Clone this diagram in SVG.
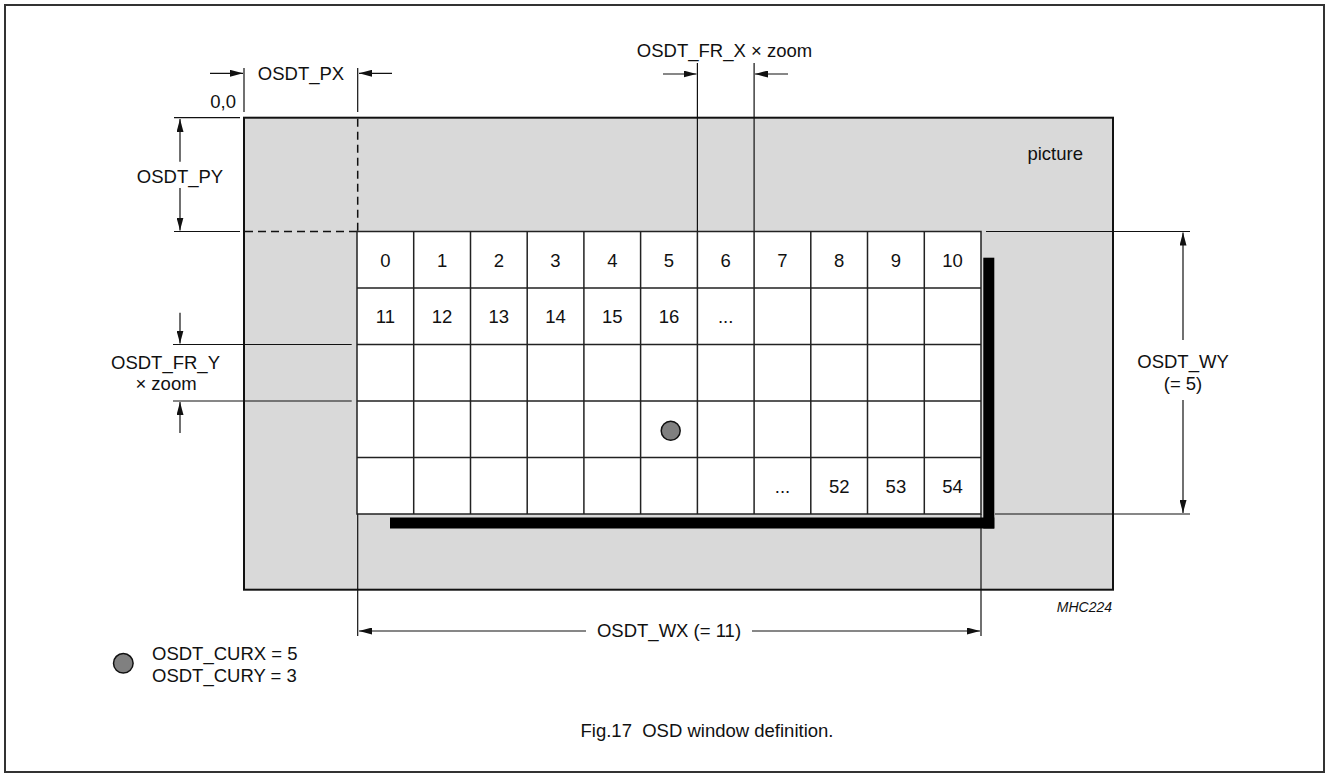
<svg xmlns="http://www.w3.org/2000/svg" width="1326" height="774" viewBox="0 0 1326 774">
<style>
text{font-family:"Liberation Sans",Arial,Helvetica,sans-serif;font-size:18.5px;fill:#111}
.c{text-anchor:middle}
.r{text-anchor:end}
.thin{stroke:#111;stroke-width:1.2;fill:none}
.dash{stroke:#111;stroke-width:1.5;fill:none;stroke-dasharray:8 5}
.arr{stroke:#111;stroke-width:1.2;fill:none;marker-end:url(#ah)}
.grid{stroke:#222;stroke-width:1.5;fill:none}
</style>
<defs>
<marker id="ah" markerUnits="userSpaceOnUse" markerWidth="13" markerHeight="7" refX="13" refY="3.5" orient="auto">
<path d="M0,0 L13,3.5 L0,7 z" fill="#111"/>
</marker>
</defs>
<rect x="5" y="5" width="1319" height="767" fill="#fff" stroke="#333" stroke-width="2"/>
<g id="picture">
<rect x="244" y="117.7" width="869" height="472" fill="#d9d9d9" stroke="#111" stroke-width="2"/>
<text x="1083" y="160" class="r">picture</text>
</g>
<g id="connectors">
<line class="dash" x1="357.7" y1="118.7" x2="357.7" y2="231.5"/>
<line class="dash" x1="245" y1="231.5" x2="357" y2="231.5"/>
<line class="thin" x1="244" y1="68" x2="244" y2="112"/>
<line class="thin" x1="357.7" y1="68" x2="357.7" y2="112"/>
<line class="arr" x1="210" y1="73.3" x2="243" y2="73.3"/>
<line class="arr" x1="392" y1="73.3" x2="359" y2="73.3"/>
<line class="thin" x1="174" y1="117.7" x2="240" y2="117.7"/>
<line class="thin" x1="174" y1="231.5" x2="240" y2="231.5"/>
<line class="arr" x1="180" y1="161.7" x2="180" y2="119"/>
<line class="arr" x1="180" y1="188" x2="180" y2="230.5"/>
<line class="thin" x1="697.4" y1="63" x2="697.4" y2="231.5"/>
<line class="thin" x1="754.1" y1="63" x2="754.1" y2="231.5"/>
<line class="arr" x1="663" y1="74" x2="696.5" y2="74"/>
<line class="arr" x1="788" y1="74" x2="755" y2="74"/>
<line class="thin" x1="173" y1="344.5" x2="351.7" y2="344.5"/>
<line class="thin" x1="173" y1="401" x2="351.7" y2="401"/>
<line class="arr" x1="180" y1="312.7" x2="180" y2="343.5"/>
<line class="arr" x1="180" y1="433" x2="180" y2="402"/>
<line class="thin" x1="986" y1="231.5" x2="1190" y2="231.5"/>
<line class="thin" x1="995" y1="514" x2="1190" y2="514"/>
<line class="arr" x1="1183" y1="340" x2="1183" y2="232.5"/>
<line class="arr" x1="1183" y1="400" x2="1183" y2="513"/>
<line class="thin" x1="357.7" y1="514" x2="357.7" y2="636"/>
<line class="thin" x1="981" y1="514" x2="981" y2="636"/>
<line class="arr" x1="586" y1="631" x2="359" y2="631"/>
<line class="arr" x1="752" y1="631" x2="980" y2="631"/>
</g>
<g id="labels">
<text x="301" y="80" class="c">OSDT_PX</text>
<text x="236" y="108" class="r">0,0</text>
<text x="180" y="183" class="c">OSDT_PY</text>
<text x="724.5" y="57" class="c">OSDT_FR_X × zoom</text>
<text x="165.5" y="369" class="c">OSDT_FR_Y</text>
<text x="166" y="390" class="c">× zoom</text>
<text x="1183" y="368" class="c">OSDT_WY</text>
<text x="1183" y="390" class="c">(= 5)</text>
<text x="669" y="637" class="c">OSDT_WX (= 11)</text>
<text x="1112" y="612" class="r" style="font-style:italic;font-size:14px">MHC224</text>
<text x="152" y="660">OSDT_CURX = 5</text>
<text x="152" y="682">OSDT_CURY = 3</text>
<text x="707" y="737" class="c">Fig.17&#160; OSD window definition.</text>
</g>
<g id="osd-window">
<rect x="357" y="231.5" width="624" height="282.5" fill="#fff" stroke="#222" stroke-width="1.5"/>
<path class="grid" d="M413.7,231.5V514M470.5,231.5V514M527.2,231.5V514M583.9,231.5V514M640.6,231.5V514M697.4,231.5V514M754.1,231.5V514M810.8,231.5V514M867.5,231.5V514M924.3,231.5V514M357,288H981M357,344.5H981M357,401H981M357,457.5H981"/>
<g>
<text x="385.4" y="266.5" class="c">0</text>
<text x="442.1" y="266.5" class="c">1</text>
<text x="498.8" y="266.5" class="c">2</text>
<text x="555.5" y="266.5" class="c">3</text>
<text x="612.3" y="266.5" class="c">4</text>
<text x="669" y="266.5" class="c">5</text>
<text x="725.7" y="266.5" class="c">6</text>
<text x="782.5" y="266.5" class="c">7</text>
<text x="839.2" y="266.5" class="c">8</text>
<text x="895.9" y="266.5" class="c">9</text>
<text x="952.6" y="266.5" class="c">10</text>
<text x="385.4" y="323" class="c">11</text>
<text x="442.1" y="323" class="c">12</text>
<text x="498.8" y="323" class="c">13</text>
<text x="555.5" y="323" class="c">14</text>
<text x="612.3" y="323" class="c">15</text>
<text x="669" y="323" class="c">16</text>
<text x="725.7" y="323" class="c">...</text>
<text x="782.5" y="492.5" class="c">...</text>
<text x="839.2" y="492.5" class="c">52</text>
<text x="895.9" y="492.5" class="c">53</text>
<text x="952.6" y="492.5" class="c">54</text>
</g>
</g>
<g id="shadow">
<rect x="983.3" y="257.7" width="11" height="270.8" fill="#000"/>
<rect x="390" y="517.5" width="604.3" height="11" fill="#000"/>
</g>
<g id="cursor">
<circle cx="670.7" cy="430.7" r="9.5" fill="#808080" stroke="#111" stroke-width="1.5"/>
</g>
<g id="legend">
<circle cx="123.3" cy="663.3" r="9.8" fill="#808080" stroke="#111" stroke-width="1.5"/>
</g>
</svg>
